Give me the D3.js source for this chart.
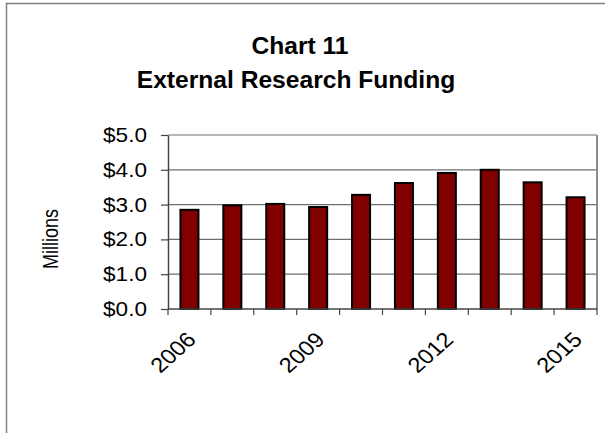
<!DOCTYPE html>
<html>
<head>
<meta charset="utf-8">
<script src="https://cdn.jsdelivr.net/npm/d3@7"></script>
<style>
  html, body { margin: 0; padding: 0; background: #fff; }
  svg { display: block; }
  text { font-family: "Liberation Sans", Arial, sans-serif; fill: #000; }
</style>
</head>
<body>
<svg id="chart" width="605" height="433"></svg>
<script>
// External research funding by year, in millions of dollars
const years = ["2006", "2007", "2008", "2009", "2010", "2011", "2012", "2013", "2014", "2015"];
const funding = [2.85, 2.98, 3.02, 2.93, 3.28, 3.62, 3.91, 4.00, 3.64, 3.21];
const yTicks = [0, 1, 2, 3, 4, 5];
const labelledYears = ["2006", "2009", "2012", "2015"];
const titleLines = ["Chart 11", "External Research Funding"];

const W = 605, H = 433;
const plot = { left: 168, right: 597, top: 135, bottom: 309 };
const stretch = 1.13; // axis glyphs are a little wider than the stock font

const svg = d3.select("#chart");

// frame around the chart area
svg.append("path")
  .attr("d", `M6.5,${H} V3.5 H${W}`)
  .attr("fill", "none")
  .attr("stroke", "#808080")
  .attr("stroke-width", 1.5);

const x = d3.scaleBand().domain(years).range([plot.left, plot.right]).padding(0);
const y = d3.scaleLinear().domain([0, 5]).range([plot.bottom, plot.top]);

// horizontal gridlines
svg.append("g")
  .selectAll("line")
  .data(yTicks.slice(1))
  .join("line")
  .attr("x1", plot.left).attr("x2", plot.right)
  .attr("y1", d => y(d)).attr("y2", d => y(d))
  .attr("stroke", "#6e6e6e")
  .attr("stroke-width", 1.2);

// right edge of the plot area
svg.append("line")
  .attr("x1", plot.right).attr("x2", plot.right)
  .attr("y1", plot.top).attr("y2", plot.bottom)
  .attr("stroke", "#8c8c8c")
  .attr("stroke-width", 2);

// bars
const barW = x.bandwidth() * 0.42;
svg.append("g")
  .selectAll("rect")
  .data(years.map((yr, i) => ({ yr, v: funding[i] })))
  .join("rect")
  .attr("x", d => x(d.yr) + (x.bandwidth() - barW) / 2)
  .attr("y", d => y(d.v))
  .attr("width", barW)
  .attr("height", d => y(0) - y(d.v))
  .attr("fill", "#800000")
  .attr("stroke", "#000")
  .attr("stroke-width", 2);

// y axis
const yAxis = svg.append("g")
  .attr("transform", `translate(${plot.left},0)`)
  .call(d3.axisLeft(y).tickValues(yTicks).tickSize(7).tickSizeOuter(0).tickFormat(d => "$" + d3.format(".1f")(d)));
yAxis.select(".domain").attr("stroke", "#444").attr("stroke-width", 1.5);
yAxis.selectAll(".tick line").attr("stroke", "#444").attr("stroke-width", 1.2);
yAxis.selectAll(".tick text")
  .attr("font-size", 20)
  .attr("dy", null)
  .attr("x", null)
  .attr("dominant-baseline", "central")
  .attr("text-anchor", "end")
  .attr("transform", `translate(-21,0) scale(${stretch},1)`);

// x axis: ticks on category boundaries
const xAxisG = svg.append("g");
xAxisG.append("line")
  .attr("x1", plot.left).attr("x2", plot.right)
  .attr("y1", plot.bottom).attr("y2", plot.bottom)
  .attr("stroke", "#444").attr("stroke-width", 1.5);
const boundaries = years.map(yr => x(yr)).concat([plot.right]);
xAxisG.selectAll("line.tick")
  .data(boundaries)
  .join("line")
  .attr("class", "tick")
  .attr("x1", d => d).attr("x2", d => d)
  .attr("y1", plot.bottom).attr("y2", plot.bottom + 6)
  .attr("stroke", "#444").attr("stroke-width", 1.2);

xAxisG.selectAll("text")
  .data(labelledYears)
  .join("text")
  .attr("text-anchor", "end")
  .attr("font-size", 21)
  .attr("transform", d => `translate(${x(d) + x.bandwidth() / 2 + 8},${plot.bottom + 32}) scale(${stretch},1) rotate(-45)`)
  .text(d => d);

// axis title
svg.append("text")
  .attr("text-anchor", "middle")
  .attr("font-size", 22)
  .attr("transform", `translate(58,239) scale(1,0.82) rotate(-90)`)
  .text("Millions");

// chart title
svg.append("g")
  .selectAll("text")
  .data(titleLines)
  .join("text")
  .attr("text-anchor", "middle")
  .attr("font-size", 24.6)
  .attr("font-weight", "bold")
  .attr("x", (d, i) => i === 0 ? 300 : 296)
  .attr("y", (d, i) => i === 0 ? 54 : 88)
  .text(d => d);
</script>
</body>
</html>
